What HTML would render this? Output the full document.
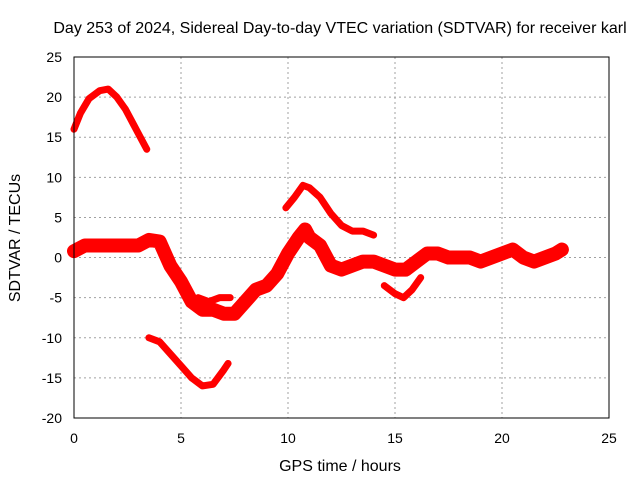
<!DOCTYPE html>
<html><head><meta charset="utf-8"><style>
body{margin:0;background:#fff}
svg text{font-family:"Liberation Sans",sans-serif;font-size:14px;fill:#000}
svg text.big{font-size:16px}
</style></head><body>
<svg width="640" height="480">
<text class="big" x="340" y="33" text-anchor="middle">Day 253 of 2024, Sidereal Day-to-day VTEC variation (SDTVAR) for receiver karl</text>
<g id="grid"></g>
<g id="ticks"></g>
<g id="series"></g>
<rect x="74" y="57" width="535" height="361" fill="none" stroke="#000"/>
<text class="big" x="340" y="471" text-anchor="middle">GPS time / hours</text>
<text class="big" transform="translate(20,238) rotate(-90)" text-anchor="middle">SDTVAR / TECUs</text>
</svg>
<script>
const xTicks=[0,5,10,15,20,25];
const yTicks=[-20,-15,-10,-5,0,5,10,15,20,25];
const topArc=[[0,16],[0.3,18],[0.7,19.8],[1.2,20.8],[1.6,21],[2,20],[2.4,18.5],[2.8,16.5],[3.1,15],[3.4,13.5]];
const lowArc=[[3.5,-10],[4,-10.5],[4.5,-12],[5,-13.5],[5.5,-15],[6,-16],[6.5,-15.8],[7,-14],[7.2,-13.2]];
const midArc=[[9.9,6.2],[10.3,7.5],[10.7,9],[11,8.7],[11.5,7.5],[12,5.5],[12.5,4],[13,3.3],[13.5,3.3],[14,2.8]];
const dipArc=[[14.5,-3.5],[15,-4.5],[15.4,-5],[15.8,-4],[16.2,-2.5]];
const sideArc=[[5.8,-5],[6.3,-5.5],[6.8,-5],[7.3,-5]];
const mainBand=[[0,0.8],[0.5,1.5],[1,1.5],[2,1.5],[3,1.5],[3.5,2.2],[4,2],[4.5,-1],[5,-3],[5.5,-5.5],[6,-6.5],[6.5,-6.5],[7,-7],[7.5,-7],[8,-5.5],[8.5,-4],[9,-3.5],[9.5,-2],[10,0.5],[10.5,2.5],[10.8,3.5],[11,2.5],[11.5,1.5],[12,-1],[12.5,-1.5],[13,-1],[13.5,-0.5],[14,-0.5],[14.5,-1],[15,-1.5],[15.5,-1.5],[16,-0.5],[16.5,0.5],[17,0.5],[17.5,0],[18,0],[18.5,0],[19,-0.5],[19.5,0],[20,0.5],[20.5,1],[21,0],[21.5,-0.5],[22,0],[22.5,0.5],[22.8,1]];
const NS='http://www.w3.org/2000/svg';
const X=v=>74+v*535/25, Y=v=>418-(v+20)*361/45;
const grid=document.getElementById('grid'),ticks=document.getElementById('ticks'),ser=document.getElementById('series');
function mk(tag,attrs,parent){const e=document.createElementNS(NS,tag);for(const k in attrs)e.setAttribute(k,attrs[k]);parent.appendChild(e);return e;}
xTicks.forEach(t=>{
 if(t>0&&t<25){const g=mk('line',{x1:X(t),x2:X(t),y1:57,y2:418,stroke:'#a0a0a0','stroke-dasharray':'2,3'},grid);
 
 }
 const l=mk('text',{x:X(t),y:443,'text-anchor':'middle'},ticks);l.textContent=t;
 
 
});
yTicks.forEach(t=>{
 if(t>-20&&t<25){const g=mk('line',{x1:74,x2:609,y1:Y(t),y2:Y(t),stroke:'#a0a0a0','stroke-dasharray':'2,3'},grid);
 
 }
 const l=mk('text',{x:62,y:Y(t)+5,'text-anchor':'end'},ticks);l.textContent=t;
 
 
});
function draw(data,w,name){
 const p=mk('polyline',{points:data.map(d=>X(d[0])+','+Y(d[1])).join(' '),fill:'none',stroke:'#f00','stroke-width':w,'stroke-linejoin':'round','stroke-linecap':'round'},ser);
 
 
}
draw(topArc,7,'series-top-arc');
draw(lowArc,7,'series-low-arc');
draw(midArc,7,'series-mid-arc');
draw(dipArc,7,'series-dip-arc');
draw(sideArc,7,'series-side-arc');
draw(mainBand,14,'series-main-band');
</script>
</body></html>
